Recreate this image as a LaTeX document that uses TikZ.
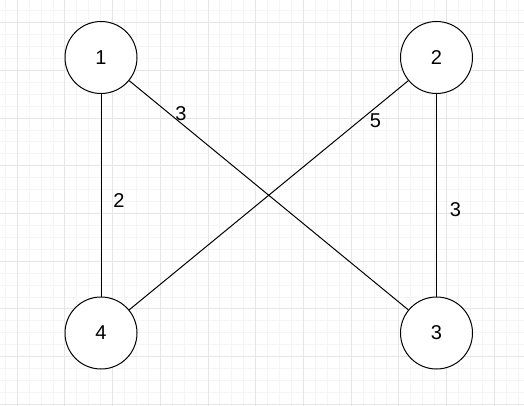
\documentclass[tikz,border=0pt]{standalone}
\usepackage{fontspec}
\setmainfont{Liberation Sans}
\definecolor{gridminor}{HTML}{F5F5F5}
\definecolor{gridmajor}{HTML}{E6E6E6}
\begin{document}
\begin{tikzpicture}[
        x=0.75pt, y=-0.75pt,
        font=\fontsize{15}{18}\selectfont,
        vertex/.style={
            circle, draw=black, line width=0.75pt,
            fill=white, minimum size=54pt, inner sep=0pt
        },
        edge/.style={draw=black, line width=0.75pt},
        weight/.style={inner sep=0pt},
        minorline/.style={draw=gridminor, line width=0.75pt},
        majorline/.style={draw=gridmajor, line width=0.75pt}
    ]
    \useasboundingbox (0,0) rectangle (524,406);

    % Grid background
    \foreach \i in {0,...,43}
        \draw[minorline] ({5.3+11.925*\i},0) -- ({5.3+11.925*\i},406);
    \foreach \j in {0,...,33}
        \draw[minorline] (0,{10.8+11.925*\j}) -- (524,{10.8+11.925*\j});
    \foreach \i in {0,...,10}
        \draw[majorline] ({17.2+47.7*\i},0) -- ({17.2+47.7*\i},406);
    \foreach \j in {0,...,8}
        \draw[majorline] (0,{22.7+47.7*\j}) -- (524,{22.7+47.7*\j});

    % Vertices
    \node[vertex] (n1) at (101, 57.5)   {1};
    \node[vertex] (n2) at (436.5, 57.5) {2};
    \node[vertex] (n3) at (436.5, 333)  {3};
    \node[vertex] (n4) at (101, 333)    {4};

    % Edges
    \draw[edge] (n1) -- (n4);
    \draw[edge] (n1) -- (n3);
    \draw[edge] (n2) -- (n4);
    \draw[edge] (n2) -- (n3);

    % Weights
    \node[weight] (w14) at (119, 200.5)   {2};
    \node[weight] (w13) at (181, 113.5)   {3};
    \node[weight] (w24) at (375.5, 120.5) {5};
    \node[weight] (w23) at (455.5, 210)   {3};

\end{tikzpicture}
\end{document}
